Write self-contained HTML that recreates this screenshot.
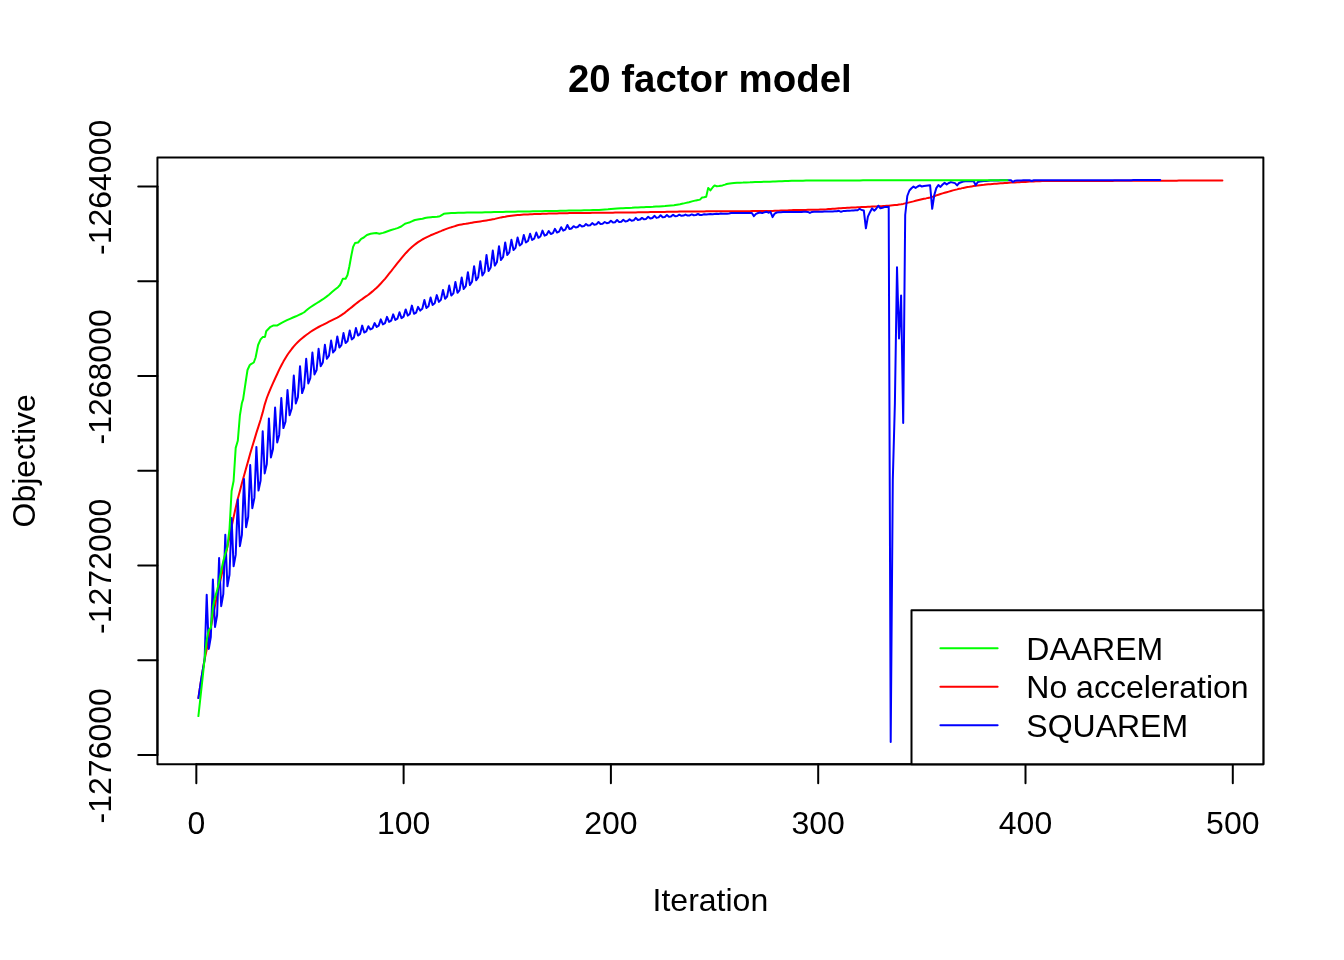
<!DOCTYPE html>
<html lang="en"><head><meta charset="utf-8"><title>20 factor model</title>
<style>html,body{margin:0;padding:0;background:#fff}svg{display:block;will-change:transform}text{font-family:"Liberation Sans",Arial,Helvetica,sans-serif;fill:#000}</style></head><body>
<svg width="1344" height="960" viewBox="0 0 1344 960">
<rect width="1344" height="960" fill="#fff"/>
<defs><clipPath id="c"><rect x="157.44" y="157.44" width="1105.92" height="606.72"/></clipPath></defs>
<g clip-path="url(#c)" fill="none" stroke-width="2" stroke-linejoin="round" stroke-linecap="round">
<polyline stroke="#ff0000" points="198.4,698.1 200.5,684.0 202.6,671.0 204.6,659.5 206.7,649.5 208.8,638.8 210.8,627.6 212.9,616.3 215.0,605.5 217.1,595.6 219.1,586.3 221.2,576.9 223.3,567.1 225.3,557.0 227.4,546.8 229.5,536.7 231.6,526.8 233.6,517.1 235.7,507.6 237.8,498.8 239.9,490.9 241.9,483.3 244.0,475.7 246.1,468.2 248.2,460.9 250.2,453.6 252.3,446.5 254.4,439.6 256.4,432.9 258.5,426.4 260.6,419.7 262.7,412.4 264.7,404.6 266.8,398.0 268.9,392.7 270.9,387.8 273.0,383.1 275.1,378.5 277.2,374.0 279.2,369.6 281.3,365.5 283.4,361.6 285.5,358.0 287.5,354.8 289.6,351.8 291.7,349.0 293.8,346.4 295.8,344.1 297.9,342.0 300.0,340.0 302.1,338.2 304.1,336.6 306.2,335.0 308.3,333.5 310.3,332.0 312.4,330.7 314.5,329.4 316.6,328.1 318.6,327.0 320.7,325.9 322.8,324.9 324.9,323.8 326.9,322.8 329.0,321.7 331.1,320.6 333.1,319.6 335.2,318.6 337.3,317.6 339.4,316.4 341.4,315.1 343.5,313.7 345.6,312.1 347.6,310.4 349.7,308.7 351.8,307.1 353.9,305.4 355.9,303.8 358.0,302.1 360.1,300.5 362.2,299.1 364.2,297.6 366.3,296.2 368.4,294.7 370.4,293.1 372.5,291.4 374.6,289.6 376.7,287.7 378.7,285.7 380.8,283.5 382.9,281.2 385.0,278.8 387.0,276.3 389.1,273.7 391.2,271.1 393.2,268.5 395.3,265.8 397.4,263.2 399.5,260.6 401.5,258.1 403.6,255.6 405.7,253.2 407.8,251.0 409.8,248.9 411.9,247.0 414.0,245.2 416.1,243.6 418.1,242.1 420.2,240.8 422.3,239.5 424.4,238.4 426.4,237.3 428.5,236.3 430.6,235.3 432.6,234.5 434.7,233.6 436.8,232.8 438.9,231.9 440.9,231.1 443.0,230.2 445.1,229.4 447.1,228.6 449.2,227.9 451.3,227.3 453.4,226.6 455.4,226.0 457.5,225.3 459.6,224.8 461.7,224.4 463.7,224.1 465.8,223.8 467.9,223.4 469.9,223.1 472.0,222.7 474.1,222.3 476.2,222.0 478.2,221.7 480.3,221.4 482.4,221.1 484.5,220.7 486.5,220.4 488.6,220.1 490.7,219.7 492.8,219.3 494.8,218.9 496.9,218.4 499.0,217.9 501.0,217.4 503.1,217.0 505.2,216.7 507.3,216.3 509.3,216.0 511.4,215.7 513.5,215.4 515.5,215.2 517.6,215.0 519.7,214.9 521.8,214.7 523.8,214.6 525.9,214.5 528.0,214.4 530.1,214.3 532.1,214.2 534.2,214.1 536.3,214.0 538.4,214.0 540.4,213.9 542.5,213.8 544.6,213.8 546.6,213.7 548.7,213.6 550.8,213.6 552.9,213.5 554.9,213.4 557.0,213.4 559.1,213.3 561.2,213.3 563.2,213.2 565.3,213.2 567.4,213.2 569.5,213.1 571.5,213.1 573.6,213.1 575.7,213.0 577.7,213.0 579.8,213.0 581.9,213.0 584.0,212.9 586.0,212.9 588.1,212.9 590.2,212.9 592.2,212.8 594.3,212.8 596.4,212.8 598.5,212.8 600.5,212.8 602.6,212.8 604.7,212.7 606.8,212.7 608.8,212.7 610.9,212.7 613.0,212.7 615.0,212.6 617.1,212.6 619.2,212.6 621.3,212.6 623.3,212.5 625.4,212.5 627.5,212.5 629.6,212.4 631.6,212.4 633.7,212.4 635.8,212.4 637.9,212.3 639.9,212.3 642.0,212.3 644.1,212.2 646.1,212.2 648.2,212.2 650.3,212.1 652.4,212.1 654.4,212.1 656.5,212.0 658.6,212.0 660.6,211.9 662.7,211.9 664.8,211.9 666.9,211.8 668.9,211.8 671.0,211.8 673.1,211.7 675.2,211.7 677.2,211.7 679.3,211.6 681.4,211.6 683.5,211.6 685.5,211.6 687.6,211.5 689.7,211.5 691.8,211.5 693.8,211.5 695.9,211.4 698.0,211.4 700.0,211.4 702.1,211.4 704.2,211.4 706.3,211.3 708.3,211.3 710.4,211.3 712.5,211.3 714.5,211.3 716.6,211.3 718.7,211.3 720.8,211.3 722.8,211.3 724.9,211.3 727.0,211.2 729.1,211.2 731.1,211.2 733.2,211.2 735.3,211.2 737.4,211.2 739.4,211.2 741.5,211.2 743.6,211.2 745.6,211.2 747.7,211.2 749.8,211.2 751.9,211.1 753.9,211.1 756.0,211.1 758.1,211.1 760.1,211.1 762.2,211.1 764.3,211.0 766.4,211.0 768.4,211.0 770.5,211.0 772.6,210.9 774.7,210.8 776.7,210.8 778.8,210.7 780.9,210.6 783.0,210.5 785.0,210.4 787.1,210.4 789.2,210.3 791.2,210.2 793.3,210.1 795.4,210.1 797.5,210.0 799.5,210.0 801.6,209.9 803.7,209.9 805.8,209.9 807.8,209.8 809.9,209.8 812.0,209.8 814.0,209.7 816.1,209.7 818.2,209.7 820.3,209.6 822.3,209.5 824.4,209.4 826.5,209.3 828.6,209.1 830.6,209.0 832.7,208.8 834.8,208.7 836.9,208.5 838.9,208.3 841.0,208.2 843.1,208.0 845.1,207.9 847.2,207.8 849.3,207.7 851.4,207.6 853.4,207.5 855.5,207.4 857.6,207.3 859.6,207.2 861.7,207.1 863.8,207.0 865.9,206.9 867.9,206.8 870.0,206.7 872.1,206.6 874.2,206.5 876.2,206.4 878.3,206.3 880.4,206.2 882.5,206.1 884.5,205.9 886.6,205.8 888.7,205.7 890.7,205.5 892.8,205.3 894.9,205.1 897.0,204.9 899.0,204.6 901.1,204.3 903.2,203.9 905.2,203.4 907.3,202.9 909.4,202.4 911.5,201.9 913.5,201.4 915.6,200.8 917.7,200.3 919.8,199.8 921.8,199.3 923.9,198.8 926.0,198.4 928.0,197.9 930.1,197.5 932.2,196.9 934.3,196.2 936.3,195.4 938.4,194.7 940.5,194.0 942.6,193.4 944.6,192.8 946.7,192.2 948.8,191.6 950.9,191.0 952.9,190.4 955.0,189.9 957.1,189.4 959.1,188.8 961.2,188.4 963.3,187.9 965.4,187.5 967.4,187.1 969.5,186.8 971.6,186.4 973.7,186.1 975.7,185.8 977.8,185.5 979.9,185.2 982.0,185.0 984.0,184.8 986.1,184.5 988.2,184.3 990.2,184.2 992.3,184.0 994.4,183.8 996.5,183.7 998.5,183.5 1000.6,183.3 1002.7,183.2 1004.8,183.0 1006.8,182.9 1008.9,182.7 1011.0,182.6 1013.0,182.5 1015.1,182.4 1017.2,182.3 1019.3,182.2 1021.3,182.1 1023.4,182.0 1025.5,181.9 1027.5,181.8 1029.6,181.6 1031.7,181.5 1033.8,181.4 1035.8,181.3 1037.9,181.2 1040.0,181.2 1042.1,181.1 1044.1,181.1 1046.2,181.0 1048.3,181.0 1050.3,181.0 1052.4,181.0 1054.5,181.0 1056.6,181.0 1058.6,181.0 1060.7,181.0 1062.8,181.0 1064.9,181.0 1066.9,181.0 1069.0,181.0 1071.1,181.0 1073.2,181.0 1075.2,181.0 1077.3,181.0 1079.4,181.0 1081.5,181.0 1083.5,181.0 1085.6,181.0 1087.7,180.9 1089.7,180.9 1091.8,180.9 1093.9,180.9 1096.0,180.9 1098.0,180.9 1100.1,180.9 1102.2,180.9 1104.2,180.9 1106.3,180.9 1108.4,180.9 1110.5,180.9 1112.5,180.9 1114.6,180.8 1116.7,180.8 1118.8,180.8 1120.8,180.8 1122.9,180.8 1125.0,180.8 1127.0,180.8 1129.1,180.8 1131.2,180.8 1133.3,180.8 1135.3,180.8 1137.4,180.8 1139.5,180.8 1141.6,180.8 1143.6,180.8 1145.7,180.8 1147.8,180.7 1149.8,180.7 1151.9,180.7 1154.0,180.7 1156.1,180.7 1158.1,180.7 1160.2,180.7 1162.3,180.7 1164.4,180.7 1166.4,180.7 1168.5,180.7 1170.6,180.7 1172.7,180.7 1174.7,180.7 1176.8,180.7 1178.9,180.6 1180.9,180.6 1183.0,180.6 1185.1,180.6 1187.2,180.6 1189.2,180.6 1191.3,180.6 1193.4,180.6 1195.5,180.6 1197.5,180.6 1199.6,180.6 1201.7,180.6 1203.7,180.6 1205.8,180.6 1207.9,180.6 1210.0,180.5 1212.0,180.5 1214.1,180.5 1216.2,180.5 1218.2,180.5 1220.3,180.5 1222.4,180.5"/>
<polyline stroke="#0000ff" points="198.4,698.1 200.5,684.0 202.6,671.0 204.6,659.5 206.7,594.7 208.8,648.9 210.8,637.1 212.9,579.5 215.0,627.0 217.1,615.3 219.1,558.1 221.2,606.2 223.3,594.1 225.3,534.8 227.4,586.2 229.5,574.7 231.6,518.1 233.6,566.2 235.7,554.9 237.8,499.5 239.9,546.2 241.9,534.8 244.0,479.0 246.1,527.2 248.2,516.7 250.2,465.0 252.3,508.3 254.4,497.9 256.4,446.9 258.5,490.6 260.6,480.5 262.7,431.2 264.7,473.4 266.8,464.1 268.9,418.4 270.9,457.5 273.0,449.0 275.1,407.5 277.2,442.5 279.2,434.9 281.3,398.1 283.4,428.1 285.5,421.6 287.5,390.0 289.6,415.2 291.7,408.5 293.8,375.6 295.8,403.4 297.9,397.1 300.0,366.2 302.1,393.1 304.1,387.3 306.2,358.8 308.3,383.5 310.3,378.2 312.4,352.5 314.5,374.4 316.6,370.0 318.6,348.8 320.7,366.2 322.8,362.6 324.9,344.8 326.9,358.8 329.0,355.7 331.1,340.6 333.1,352.5 335.2,349.8 337.3,336.5 339.4,347.5 341.4,345.1 343.5,333.1 345.6,343.1 347.6,341.0 349.7,330.6 351.8,339.4 353.9,337.5 355.9,328.1 358.0,335.6 360.1,333.9 362.2,325.6 364.2,332.5 366.3,331.4 368.4,326.2 370.4,329.4 372.5,328.3 374.6,323.1 376.7,326.9 378.7,325.6 380.8,319.4 382.9,324.4 385.0,323.1 387.0,316.9 389.1,321.9 391.2,320.6 393.2,314.4 395.3,320.0 397.4,318.7 399.5,312.2 401.5,318.1 403.6,316.6 405.7,309.4 407.8,315.6 409.8,313.9 411.9,305.6 414.0,313.8 416.1,312.6 418.1,306.9 420.2,310.6 422.3,308.8 424.4,300.0 426.4,308.1 428.5,306.3 430.6,297.5 432.6,305.0 434.7,303.3 436.8,295.1 438.9,301.9 440.9,299.9 443.0,290.0 445.1,298.8 447.1,296.5 449.2,285.6 451.3,295.6 453.4,293.3 455.4,281.9 457.5,292.8 459.6,290.2 461.7,277.5 463.7,289.0 465.8,286.1 467.9,272.2 469.9,285.0 472.0,281.8 474.1,266.2 476.2,280.3 478.2,277.1 480.3,261.2 482.4,275.6 484.5,272.1 486.5,255.0 488.6,271.0 490.7,267.5 492.8,250.6 494.8,265.6 496.9,262.3 499.0,246.2 501.0,260.0 503.1,257.0 505.2,242.5 507.3,255.0 509.3,252.4 511.4,239.8 513.5,250.0 515.5,247.9 517.6,237.5 519.7,245.6 521.8,243.8 523.8,235.0 525.9,242.5 528.0,241.0 530.1,233.8 532.1,240.0 534.2,238.7 536.3,232.5 538.4,237.8 540.4,236.5 542.5,230.6 544.6,235.6 546.6,234.8 548.7,231.0 550.8,234.0 552.9,233.1 554.9,228.8 557.0,232.5 559.1,231.6 561.2,227.2 563.2,230.6 565.3,229.7 567.4,225.0 569.5,229.0 571.5,228.5 573.6,226.2 575.7,227.5 577.7,227.0 579.8,224.8 581.9,226.5 584.0,226.1 586.0,224.0 588.1,225.6 590.2,225.2 592.2,223.1 594.3,224.8 596.4,224.3 598.5,222.0 600.5,224.0 602.6,223.7 604.7,222.0 606.8,223.2 608.8,222.8 610.9,220.7 613.0,222.6 615.0,222.2 617.1,220.0 619.2,222.1 621.3,221.7 623.3,219.8 625.4,221.5 627.5,221.1 629.6,219.2 631.6,220.8 633.7,220.3 635.8,217.9 637.9,220.0 639.9,219.6 642.0,217.9 644.1,219.3 646.1,218.9 648.2,216.7 650.3,218.5 652.4,218.0 654.4,215.8 656.5,217.9 658.6,217.4 660.6,215.2 662.7,217.3 664.8,216.9 666.9,215.0 668.9,216.7 671.0,216.4 673.1,214.8 675.2,216.2 677.2,216.0 679.3,214.7 681.4,215.8 683.5,215.6 685.5,214.6 687.6,215.6 689.7,215.4 691.8,214.4 693.8,215.2 695.9,215.0 698.0,214.0 700.0,215.0 702.1,214.9 704.2,214.2 706.3,214.6 708.3,214.3 710.4,214.0 712.5,214.2 714.5,213.9 716.6,213.7 718.7,213.9 720.8,213.5 722.8,213.7 724.9,213.7 727.0,213.8 729.1,213.5 731.1,213.1 733.2,213.0 735.3,213.0 737.4,213.0 739.4,213.0 741.5,213.0 743.6,213.0 745.6,213.0 747.7,213.0 749.8,213.0 751.9,213.0 753.9,216.2 756.0,213.9 758.1,213.0 760.1,212.5 762.2,213.1 764.3,212.4 766.4,211.7 768.4,212.7 770.5,211.9 772.6,217.1 774.7,213.6 776.7,212.5 778.8,212.2 780.9,212.2 783.0,212.1 785.0,212.1 787.1,212.1 789.2,212.1 791.2,212.0 793.3,212.0 795.4,211.9 797.5,211.9 799.5,211.9 801.6,211.9 803.7,211.8 805.8,211.8 807.8,211.9 809.9,212.9 812.0,211.9 814.0,211.8 816.1,211.8 818.2,211.8 820.3,211.7 822.3,211.7 824.4,211.6 826.5,211.6 828.6,211.5 830.6,211.4 832.7,211.4 834.8,211.3 836.9,211.3 838.9,210.8 841.0,211.8 843.1,211.1 845.1,211.0 847.2,210.8 849.3,210.7 851.4,210.6 853.4,210.4 855.5,210.3 857.6,210.2 859.6,208.8 861.7,210.0 863.8,210.4 865.9,228.3 867.9,216.7 870.0,212.2 872.1,208.3 874.2,210.7 876.2,208.8 878.3,205.7 880.4,208.3 882.5,207.7 884.5,207.1 886.6,206.9 888.7,206.7 890.7,742.0 892.8,480.0 894.9,403.0 897.0,267.2 899.0,338.5 901.1,295.4 903.2,422.9 905.2,215.0 907.3,196.0 909.4,190.5 911.5,188.3 913.5,186.6 915.6,187.9 917.7,186.5 919.8,185.4 921.8,186.5 923.9,186.1 926.0,185.8 928.0,185.5 930.1,185.2 932.2,208.8 934.3,195.0 936.3,188.1 938.4,185.0 940.5,186.9 942.6,184.5 944.6,182.9 946.7,184.4 948.8,183.0 950.9,182.1 952.9,182.6 955.0,183.1 957.1,185.4 959.1,183.0 961.2,182.2 963.3,181.6 965.4,181.2 967.4,181.2 969.5,181.2 971.6,181.2 973.7,181.2 975.7,185.2 977.8,182.0 979.9,181.5 982.0,181.2 984.0,181.1 986.1,180.9 988.2,180.8 990.2,180.6 992.3,180.6 994.4,180.5 996.5,180.4 998.5,180.4 1000.6,180.3 1002.7,180.3 1004.8,180.3 1006.8,180.3 1008.9,180.3 1011.0,180.2 1013.0,181.9 1015.1,180.7 1017.2,180.4 1019.3,180.4 1021.3,180.4 1023.4,180.3 1025.5,180.3 1027.5,180.3 1029.6,180.3 1031.7,181.0 1033.8,180.3 1035.8,180.3 1037.9,180.3 1040.0,180.3 1042.1,180.3 1044.1,180.3 1046.2,180.3 1048.3,180.3 1050.3,180.3 1052.4,180.3 1054.5,180.3 1056.6,180.3 1058.6,180.3 1060.7,180.3 1062.8,180.2 1064.9,180.2 1066.9,180.2 1069.0,180.2 1071.1,180.2 1073.2,180.2 1075.2,180.2 1077.3,180.2 1079.4,180.2 1081.5,180.2 1083.5,180.2 1085.6,180.2 1087.7,180.2 1089.7,180.2 1091.8,180.2 1093.9,180.2 1096.0,180.2 1098.0,180.2 1100.1,180.2 1102.2,180.2 1104.2,180.2 1106.3,180.2 1108.4,180.2 1110.5,180.2 1112.5,180.2 1114.6,180.2 1116.7,180.2 1118.8,180.2 1120.8,180.2 1122.9,180.2 1125.0,180.2 1127.0,180.2 1129.1,180.2 1131.2,180.2 1133.3,180.1 1135.3,180.1 1137.4,180.1 1139.5,180.1 1141.6,180.1 1143.6,180.1 1145.7,180.1 1147.8,180.1 1149.8,180.1 1151.9,180.1 1154.0,180.1 1156.1,180.1 1158.1,180.1 1160.2,180.1"/>
<polyline stroke="#00ff00" points="198.4,716.1 200.5,697.0 202.6,678.0 204.6,659.0 206.7,639.7 208.8,630.0 210.8,628.0 212.9,607.5 215.0,597.5 217.1,590.4 219.1,581.7 221.2,571.0 223.3,561.0 225.3,553.8 227.4,546.7 229.5,529.0 231.6,491.0 233.6,481.0 235.7,447.9 237.8,440.8 239.9,415.4 241.9,403.0 243.1,399.4 245.6,382.5 247.5,370.0 249.8,365.0 251.0,364.1 253.8,362.5 255.6,357.5 258.1,345.0 260.6,339.4 262.9,336.9 265.0,336.9 266.2,331.2 270.0,327.2 273.1,325.6 275.0,325.6 276.9,325.6 281.2,323.1 284.0,321.7 287.0,320.2 290.0,318.8 293.0,317.5 296.0,316.3 297.5,315.6 299.0,314.9 302.0,313.5 303.8,312.5 305.0,311.6 308.0,309.1 310.0,307.5 314.0,304.9 317.0,303.0 318.8,301.9 320.0,301.1 323.0,299.2 326.2,296.9 329.0,294.7 332.0,292.1 333.8,290.6 335.0,289.6 338.0,287.2 340.0,285.0 341.2,282.5 342.8,278.8 344.0,278.8 345.6,278.8 347.5,275.0 349.4,266.2 351.2,256.2 353.1,246.9 355.0,243.1 358.1,242.5 361.2,238.8 363.8,237.5 365.0,236.5 366.9,235.0 370.6,233.8 374.0,233.2 376.2,233.1 379.4,233.8 383.0,232.9 385.0,232.2 389.0,230.8 391.2,230.0 395.0,228.9 397.5,228.1 401.2,226.5 405.0,223.8 407.0,223.1 410.0,222.2 413.0,220.8 415.0,220.0 419.0,219.3 422.5,218.8 425.0,218.0 426.2,217.8 428.0,217.5 431.0,217.2 432.5,217.1 434.0,217.0 437.0,216.8 438.8,216.6 440.0,216.1 443.8,213.8 446.0,213.5 449.0,213.2 451.2,213.1 455.0,212.9 458.0,212.8 460.0,212.8 464.0,212.7 467.0,212.6 470.0,212.6 473.0,212.6 476.0,212.5 478.0,212.5 482.0,212.4 485.0,212.3 487.5,212.2 491.0,212.2 494.0,212.1 497.0,212.0 500.0,212.0 503.0,211.9 506.0,211.8 509.0,211.8 512.0,211.7 515.0,211.7 518.0,211.6 521.0,211.6 524.0,211.5 527.0,211.4 530.0,211.4 533.0,211.3 536.0,211.3 537.5,211.2 539.0,211.2 542.0,211.2 545.0,211.1 548.0,211.0 551.0,211.0 554.0,210.9 557.0,210.9 560.0,210.8 563.0,210.8 566.0,210.7 569.0,210.6 572.0,210.6 575.0,210.5 578.0,210.4 581.0,210.4 584.0,210.3 587.0,210.2 590.0,210.2 593.0,210.1 596.0,210.0 599.0,209.9 602.0,209.7 605.0,209.5 608.0,209.3 611.0,209.0 614.0,208.8 617.0,208.6 621.0,208.3 623.0,208.2 626.0,208.0 629.0,207.9 632.0,207.8 635.0,207.6 638.0,207.5 641.0,207.3 644.0,207.2 646.0,207.1 650.0,206.9 653.0,206.8 656.0,206.6 659.0,206.5 662.7,206.2 665.0,206.1 668.0,205.8 671.0,205.5 674.0,205.2 675.2,205.0 677.0,204.7 680.0,204.2 683.0,203.6 686.0,202.9 687.7,202.5 689.0,202.2 692.0,201.4 696.0,200.4 698.0,200.1 700.0,199.6 702.1,197.5 704.0,197.2 706.2,196.7 708.2,187.9 710.4,190.4 713.0,187.0 714.6,185.4 716.7,186.2 719.0,186.1 722.5,185.4 725.0,184.6 726.7,184.0 728.0,183.7 731.7,183.2 734.0,183.0 737.0,182.8 740.0,182.7 743.0,182.6 746.0,182.4 750.0,182.3 752.0,182.2 755.0,182.1 758.0,182.0 761.0,181.9 764.0,181.8 767.0,181.8 770.0,181.7 773.0,181.6 775.0,181.5 779.0,181.3 782.0,181.2 785.0,181.0 788.0,180.9 791.7,180.8 794.0,180.8 797.0,180.7 800.0,180.7 803.0,180.7 806.0,180.6 809.0,180.6 812.0,180.6 815.0,180.6 818.0,180.6 821.0,180.5 824.0,180.5 827.0,180.5 830.0,180.5 833.0,180.5 836.0,180.5 839.0,180.4 842.0,180.4 845.0,180.4 848.0,180.4 850.0,180.4 854.0,180.4 857.0,180.4 860.0,180.4 863.0,180.3 866.0,180.3 869.0,180.3 872.0,180.3 875.0,180.3 878.0,180.3 881.0,180.3 884.0,180.3 887.0,180.3 890.0,180.3 893.0,180.2 896.0,180.2 899.0,180.2 902.0,180.2 905.0,180.2 908.0,180.2 911.0,180.2 914.0,180.2 917.0,180.2 920.0,180.2 923.0,180.2 926.0,180.2 928.0,180.2 932.0,180.2 935.0,180.2 938.0,180.2 941.0,180.2 944.0,180.2 947.0,180.2 950.0,180.2 953.0,180.2 956.0,180.2 959.0,180.2 962.0,180.2 965.0,180.2 968.0,180.2 971.0,180.2 974.0,180.2 977.0,180.2 980.0,180.2 983.0,180.2 986.0,180.2 989.0,180.2 992.0,180.2 995.0,180.2 998.0,180.2 1001.0,180.2 1004.0,180.2 1007.5,180.2"/>
</g>
<g fill="none" stroke="#000" stroke-width="2" stroke-linecap="round" stroke-linejoin="round">
<path d="M196.33 764.16H1232.80"/>
<path d="M196.33 764.16v19.2"/>
<path d="M403.62 764.16v19.2"/>
<path d="M610.90 764.16v19.2"/>
<path d="M818.20 764.16v19.2"/>
<path d="M1025.50 764.16v19.2"/>
<path d="M1232.80 764.16v19.2"/>
<path d="M157.44 186.60V755.00"/>
<path d="M157.44 186.60h-19.2"/>
<path d="M157.44 281.30h-19.2"/>
<path d="M157.44 376.10h-19.2"/>
<path d="M157.44 470.80h-19.2"/>
<path d="M157.44 565.50h-19.2"/>
<path d="M157.44 660.30h-19.2"/>
<path d="M157.44 755.00h-19.2"/>
<rect x="157.44" y="157.44" width="1105.92" height="606.72"/>
</g>
<text x="196.33" y="833.6" font-size="32" text-anchor="middle">0</text>
<text x="403.62" y="833.6" font-size="32" text-anchor="middle">100</text>
<text x="610.90" y="833.6" font-size="32" text-anchor="middle">200</text>
<text x="818.20" y="833.6" font-size="32" text-anchor="middle">300</text>
<text x="1025.50" y="833.6" font-size="32" text-anchor="middle">400</text>
<text x="1232.80" y="833.6" font-size="32" text-anchor="middle">500</text>
<text transform="translate(111.3 187.40) rotate(-90)" font-size="32" text-anchor="middle">-1264000</text>
<text transform="translate(111.3 376.90) rotate(-90)" font-size="32" text-anchor="middle">-1268000</text>
<text transform="translate(111.3 566.30) rotate(-90)" font-size="32" text-anchor="middle">-1272000</text>
<text transform="translate(111.3 755.80) rotate(-90)" font-size="32" text-anchor="middle">-1276000</text>
<text x="709.8" y="92.1" font-size="38.4" font-weight="bold" text-anchor="middle">20 factor model</text>
<text x="710.4" y="911" font-size="32" text-anchor="middle">Iteration</text>
<text transform="translate(34.7 460.8) rotate(-90)" font-size="32" text-anchor="middle">Objective</text>
<rect x="911.5" y="610.3" width="351.86" height="153.86" fill="#fff" stroke="#000" stroke-width="2" stroke-linejoin="round"/>
<path d="M940.4 648.3H997.6" stroke="#00ff00" stroke-width="2" stroke-linecap="round"/>
<text x="1026.3" y="659.6999999999999" font-size="32">DAAREM</text>
<path d="M940.4 686.8H997.6" stroke="#ff0000" stroke-width="2" stroke-linecap="round"/>
<text x="1026.3" y="698.1999999999999" font-size="32">No acceleration</text>
<path d="M940.4 725.3H997.6" stroke="#0000ff" stroke-width="2" stroke-linecap="round"/>
<text x="1026.3" y="736.6999999999999" font-size="32">SQUAREM</text>
</svg></body></html>
